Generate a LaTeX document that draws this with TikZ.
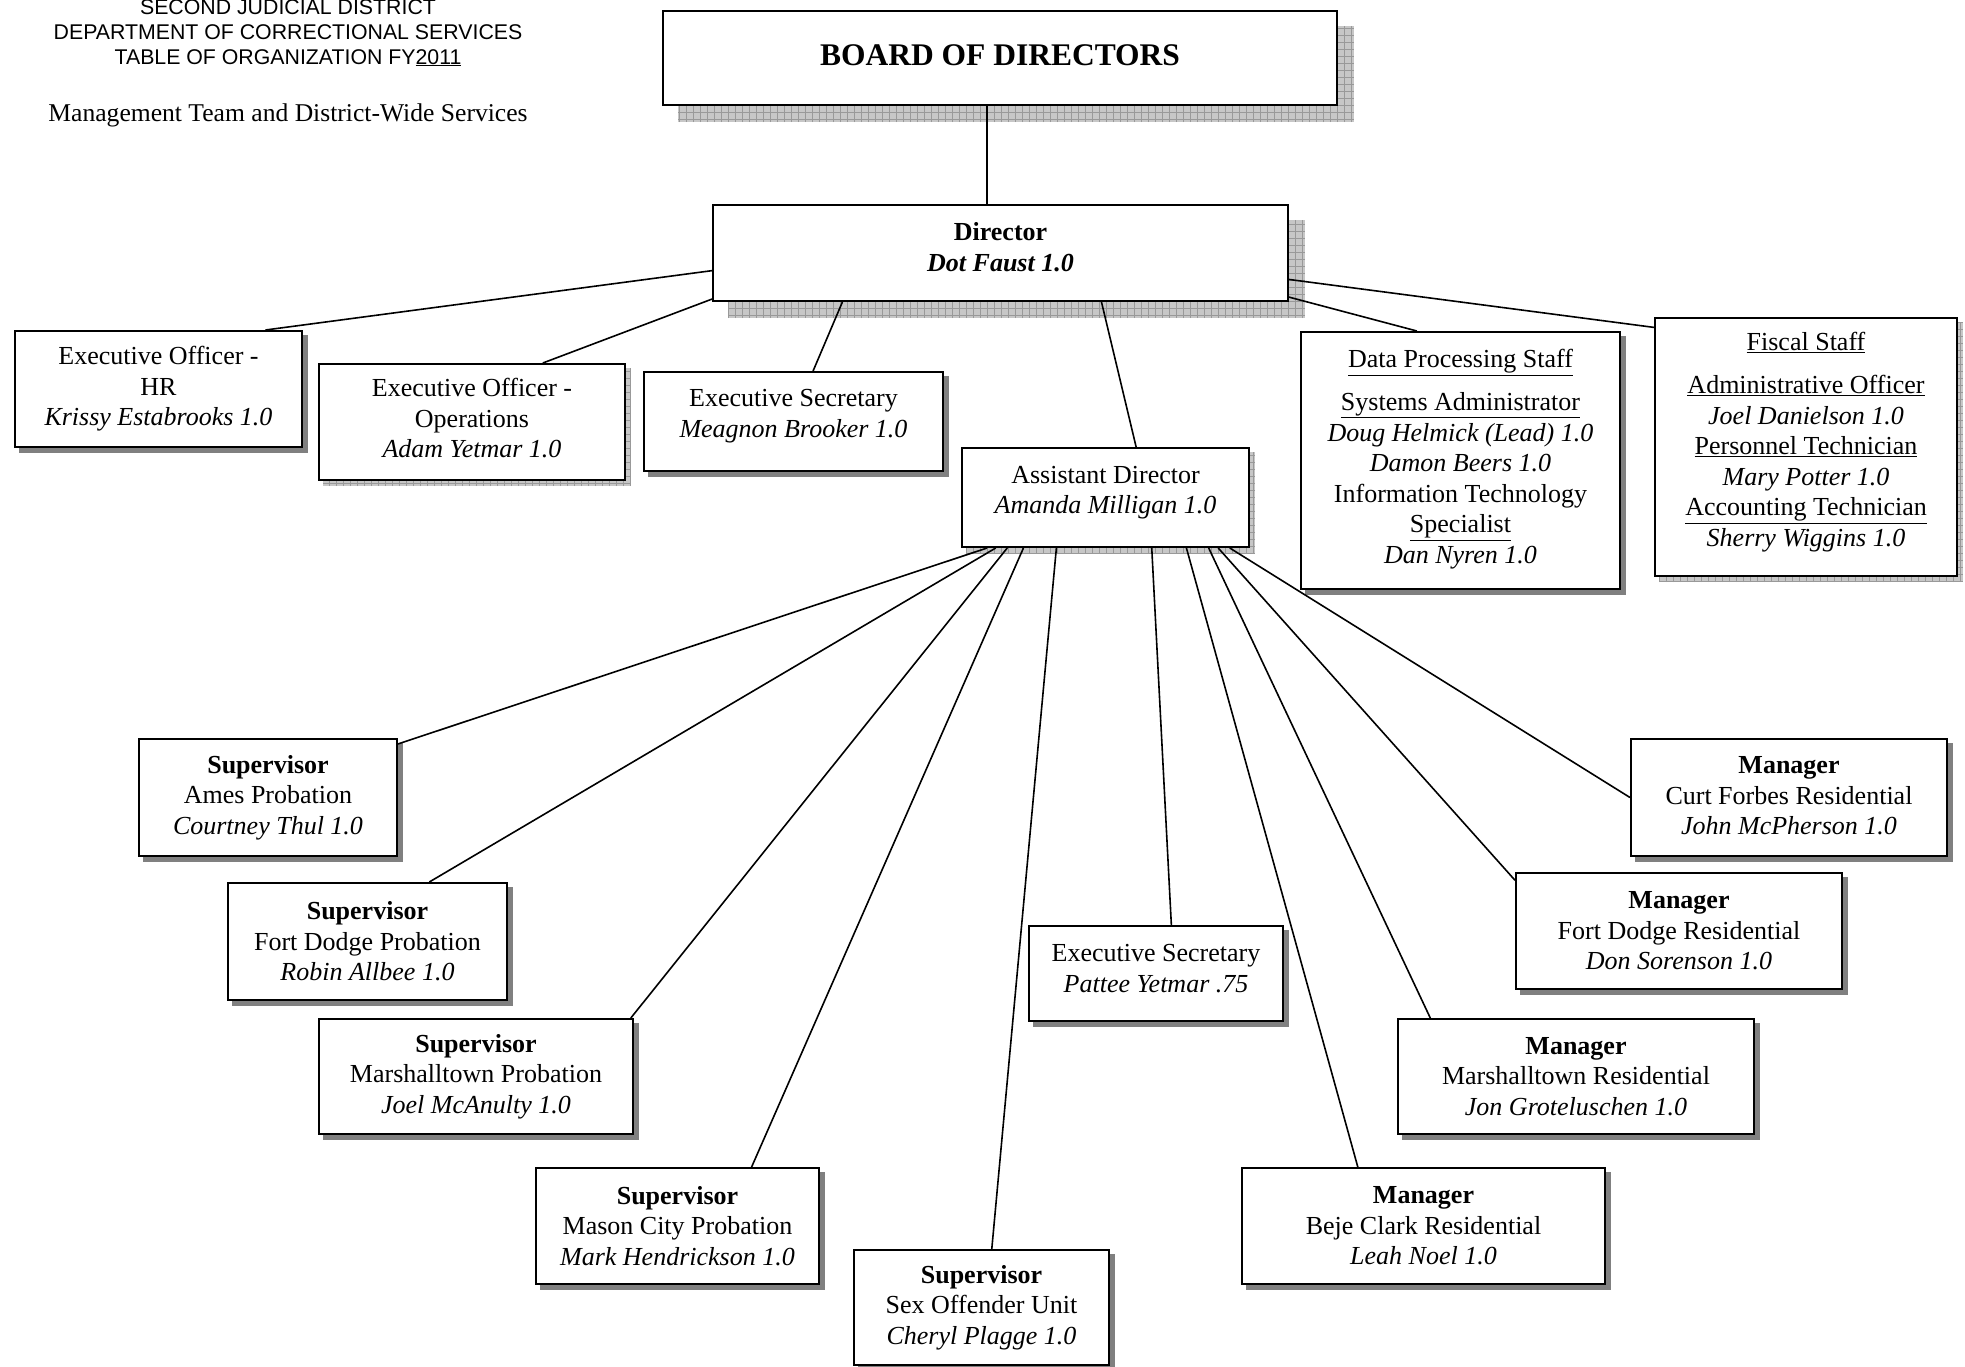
\documentclass[tikz,border=0pt]{standalone}
\usepackage{fontspec}
\setmainfont{Liberation Serif}
\newfontfamily\arialf{Liberation Sans}
\usetikzlibrary{calc,backgrounds}
\tikzset{
  box/.style={draw=black, line width=2pt, fill=white, align=center, anchor=north west,
    inner sep=0pt, font=\fontsize{26}{30.6}\selectfont},
  conn/.style={line width=1.6pt, draw=black},
  hdr/.style={anchor=base, inner sep=0pt, font=\arialf\fontsize{21.3}{25}\selectfont},
}
\newcommand\darkshadow[1]{\fill[black!50] ($(#1.north west)+(5,5)$) rectangle ($(#1.south east)+(5,5)$);}
\newcommand\gridshadow[2]{%
  \begin{scope}
    \clip ($(#1.north west)+(#2,#2)$) rectangle ($(#1.south east)+(#2,#2)$);
    \fill[black!22] ($(#1.north west)+(#2,#2)$) rectangle ($(#1.south east)+(#2,#2)$);
    \draw[black!40, line width=0.7pt, step=7pt] ($(#1.north west)+(#2,#2)$) grid ($(#1.south east)+(#2,#2)$);
  \end{scope}}
\begin{document}
\begin{tikzpicture}[x=1pt, y=-1pt]
\useasboundingbox (0,0) rectangle (1965,1366);

% header
\node[hdr] (h1) at (288,14) {SECOND JUDICIAL DISTRICT};
\node[hdr] (h2) at (288,39) {DEPARTMENT OF CORRECTIONAL SERVICES};
\node[hdr] (h3) at (288,64) {TABLE OF ORGANIZATION FY\underline{2011}};
\node[anchor=base, inner sep=0pt, font=\fontsize{25.6}{28}\selectfont] (h4) at (288,121) {Management Team and District-Wide Services};

% top boxes
\node[box, minimum width=674pt, minimum height=94pt, text depth=5pt, font=\bfseries\fontsize{31.5}{36}\selectfont] (board) at (662,10) {BOARD OF DIRECTORS};
\node[box, minimum width=575pt, minimum height=96pt, text depth=12pt] (dir) at (712,204) {\textbf{Director}\\\textbf{\textit{Dot Faust 1.0}}};

\node[box, minimum width=287pt, minimum height=116pt] (hr) at (14,330) {Executive Officer -\\HR\\\textit{Krissy Estabrooks 1.0}};
\node[box, minimum width=306pt, minimum height=116pt, text depth=8pt] (ops) at (318,363) {Executive Officer -\\Operations\\\textit{Adam Yetmar 1.0}};
\node[box, minimum width=299pt, minimum height=99pt, text depth=16pt] (es1) at (643,371) {Executive Secretary\\\textit{Meagnon Brooker 1.0}};
\node[box, minimum width=287pt, minimum height=99pt, text depth=15pt] (ad) at (961,447) {Assistant Director\\\textit{Amanda Milligan 1.0}};
\node[box, minimum width=319pt, minimum height=257pt, text depth=8pt] (dp) at (1300,331) {\underline{Data Processing Staff}\\[12pt]
  \underline{Systems Administrator}\\\textit{Doug Helmick (Lead) 1.0}\\\textit{Damon Beers 1.0}\\Information Technology\\\underline{Specialist}\\\textit{Dan Nyren 1.0}};
\node[box, minimum width=302pt, minimum height=258pt, text depth=15pt] (fis) at (1654,317) {\underline{Fiscal Staff}\\[12pt]
  \underline{Administrative Officer}\\\textit{Joel Danielson 1.0}\\\underline{Personnel Technician}\\\textit{Mary Potter 1.0}\\\underline{Accounting Technician}\\\textit{Sherry Wiggins 1.0}};

% lower boxes
\node[box, minimum width=258pt, minimum height=117pt] (ames) at (138,738) {\textbf{Supervisor}\\Ames Probation\\\textit{Courtney Thul 1.0}};
\node[box, minimum width=279pt, minimum height=117pt] (fd) at (227,882) {\textbf{Supervisor}\\Fort Dodge Probation\\\textit{Robin Allbee 1.0}};
\node[box, minimum width=314pt, minimum height=115pt] (msh) at (318,1018) {\textbf{Supervisor}\\Marshalltown Probation\\\textit{Joel McAnulty 1.0}};
\node[box, minimum width=283pt, minimum height=116pt] (mason) at (535,1167) {\textbf{Supervisor}\\Mason City Probation\\\textit{Mark Hendrickson 1.0}};
\node[box, minimum width=255pt, minimum height=115pt] (sex) at (853,1249) {\textbf{Supervisor}\\Sex Offender Unit\\\textit{Cheryl Plagge 1.0}};
\node[box, minimum width=254pt, minimum height=95pt, text depth=10pt] (pat) at (1028,925) {Executive Secretary\\\textit{Pattee Yetmar .75}};
\node[box, minimum width=363pt, minimum height=116pt] (beje) at (1241,1167) {\textbf{Manager}\\Beje Clark Residential\\\textit{Leah Noel 1.0}};
\node[box, minimum width=356pt, minimum height=115pt] (mres) at (1397,1018) {\textbf{Manager}\\Marshalltown Residential\\\textit{Jon Groteluschen 1.0}};
\node[box, minimum width=326pt, minimum height=116pt] (fdr) at (1515,872) {\textbf{Manager}\\Fort Dodge Residential\\\textit{Don Sorenson 1.0}};
\node[box, minimum width=316pt, minimum height=117pt, text depth=4pt] (curt) at (1630,738) {\textbf{Manager}\\Curt Forbes Residential\\\textit{John McPherson 1.0}};

% shadows
\begin{pgfonlayer}{background}
  \fill[white] (0,0) rectangle (1965,1366);
  \gridshadow{board}{16}
  \gridshadow{dir}{16}
  \gridshadow{ops}{5}
  \gridshadow{ad}{5}
  \gridshadow{fis}{5}
  \darkshadow{hr}
  \darkshadow{es1}
  \darkshadow{dp}
  \darkshadow{ames}
  \darkshadow{fd}
  \darkshadow{msh}
  \darkshadow{mason}
  \darkshadow{sex}
  \darkshadow{pat}
  \darkshadow{beje}
  \darkshadow{mres}
  \darkshadow{fdr}
  \darkshadow{curt}
\end{pgfonlayer}

% connectors
\coordinate (bd) at ($(board.south)+(-13,0)$);
\draw[conn] (bd) -- (bd |- dir.north);
\draw[conn] ($(dir.north west)!0.68!(dir.south west)$) -- ($(hr.north west)!0.87!(hr.north east)$);
\draw[conn] ($(dir.north west)!0.97!(dir.south west)$) -- ($(ops.north west)!0.73!(ops.north east)$);
\draw[conn] ($(dir.south west)!0.226!(dir.south east)$) -- ($(es1.north west)!0.565!(es1.north east)$);
\draw[conn] ($(dir.south west)!0.675!(dir.south east)$) -- ($(ad.north west)!0.606!(ad.north east)$);
\draw[conn] ($(dir.north east)!0.95!(dir.south east)$) -- ($(dp.north west)!0.364!(dp.north east)$);
\draw[conn] ($(dir.north east)!0.77!(dir.south east)$) -- ($(fis.north west)!0.04!(fis.south west)$);

\draw[conn] ($(ad.south west)!0.09!(ad.south east)$) -- ($(ames.north east)!0.05!(ames.south east)$);
\draw[conn] ($(ad.south west)!0.12!(ad.south east)$) -- ($(fd.north west)!0.72!(fd.north east)$);
\draw[conn] ($(ad.south west)!0.16!(ad.south east)$) -- ($(msh.north west)!0.99!(msh.north east)$);
\draw[conn] ($(ad.south west)!0.216!(ad.south east)$) -- ($(mason.north west)!0.76!(mason.north east)$);
\draw[conn] ($(ad.south west)!0.33!(ad.south east)$) -- ($(sex.north west)!0.54!(sex.north east)$);
\draw[conn] ($(ad.south west)!0.66!(ad.south east)$) -- ($(pat.north west)!0.56!(pat.north east)$);
\draw[conn] ($(ad.south west)!0.78!(ad.south east)$) -- ($(beje.north west)!0.32!(beje.north east)$);
\draw[conn] ($(ad.south west)!0.857!(ad.south east)$) -- ($(mres.north west)!0.093!(mres.north east)$);
\draw[conn] ($(ad.south west)!0.89!(ad.south east)$) -- ($(fdr.north west)!0.07!(fdr.south west)$);
\draw[conn] ($(ad.south west)!0.93!(ad.south east)$) -- (curt.west);
\end{tikzpicture}
\end{document}
